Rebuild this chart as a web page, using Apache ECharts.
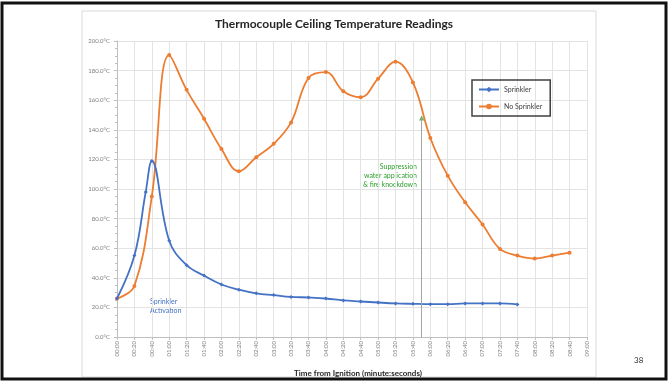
<!DOCTYPE html>
<html>
<head>
<meta charset="utf-8">
<script src="https://cdn.jsdelivr.net/npm/echarts@6/dist/echarts.min.js"></script>
<style>
  html, body { margin: 0; padding: 0; background: #fff; }
  #chart { width: 668px; height: 382px; }
</style>
</head>
<body>
<div id="chart"></div>
<script>
// readings, time in seconds from ignition
var sprinklerTime = [0, 20, 33, 40, 60, 80, 100, 120, 140, 160, 180, 200, 220, 240, 260, 280, 300, 320, 340, 360, 380, 400, 420, 440, 460];
var sprinklerTemp = [26, 55, 98, 119, 65, 48.5, 41.5, 35.5, 32, 29.5, 28.3, 27.1, 26.7, 26, 24.7, 24, 23.3, 22.7, 22.4, 22.2, 22.2, 22.7, 22.7, 22.7, 22];

var noSprinklerTime = [0, 20, 40, 60, 80, 100, 120, 140, 160, 180, 200, 220, 240, 260, 280, 300, 320, 340, 360, 380, 400, 420, 440, 460, 480, 500, 520];
var noSprinklerTemp = [26, 34.5, 95, 190.5, 167, 147.5, 127, 112, 121.5, 130.5, 145, 175, 179, 166, 162, 174.5, 186, 172, 134.5, 109, 91, 76, 59.5, 55, 53, 55, 57];

var suppression = [350, 148];

function pairs(xs, ys) {
    return xs.map(function (x, i) { return [x, ys[i]]; });
}
function mmss(v) {
    var m = Math.floor(v / 60), s = v % 60;
    return (m < 10 ? '0' : '') + m + ':' + (s < 10 ? '0' : '') + s;
}

var myChart = echarts.init(document.getElementById('chart'));
var option = {
    backgroundColor: '#fff',
    animation: false,
    textStyle: { fontFamily: 'Lato' },
    title: {
        text: 'Thermocouple Ceiling Temperature Readings',
        left: 'center',
        top: 13,
        textStyle: { fontSize: 12, fontWeight: 'bold', color: '#262626', fontFamily: 'Lato' }
    },
    legend: {
        orient: 'vertical',
        left: 472,
        top: 80,
        data: ['Sprinkler', 'No Sprinkler'],
        borderColor: '#404040',
        borderWidth: 1.5,
        borderRadius: 0,
        padding: [6, 8, 6, 6],
        itemGap: 10,
        itemWidth: 20,
        itemHeight: 7,
        textStyle: { fontSize: 7, color: '#404040' }
    },
    grid: { left: 117, right: 81, top: 41, bottom: 44 },
    xAxis: {
        type: 'value',
        min: 0,
        max: 540,
        interval: 20,
        name: 'Time from Ignition (minute:seconds)',
        nameLocation: 'middle',
        nameGap: 32,
        nameTextStyle: { fontSize: 8, fontWeight: 'bold', color: '#262626', padding: [0, 0, 0, 12] },
        axisLine: { lineStyle: { color: '#bfbfbf' } },
        axisTick: { length: 3, lineStyle: { color: '#bfbfbf' } },
        axisLabel: { rotate: 90, fontSize: 6, color: '#7f7f7f', margin: 4, formatter: mmss },
        splitLine: { show: true, lineStyle: { color: '#e3e3e3' } }
    },
    yAxis: {
        type: 'value',
        min: 0,
        max: 200,
        interval: 20,
        axisLine: { show: true, lineStyle: { color: '#bfbfbf' } },
        axisTick: { show: true, length: 3, lineStyle: { color: '#bfbfbf' } },
        minorTick: { show: true, splitNumber: 4, length: 2, lineStyle: { color: '#bfbfbf' } },
        axisLabel: { fontSize: 6, color: '#7f7f7f', margin: 7, formatter: function (v) { return v.toFixed(1) + '°C'; } },
        splitLine: { lineStyle: { color: '#e3e3e3' } }
    },
    series: [
        {
            name: 'Sprinkler',
            type: 'line',
            smooth: 0.4,
            data: pairs(sprinklerTime, sprinklerTemp),
            symbol: 'diamond',
            symbolSize: 4,
            showAllSymbol: true,
            lineStyle: { color: '#4472c4', width: 1.8 },
            itemStyle: { color: '#4472c4' },
            z: 3
        },
        {
            name: 'No Sprinkler',
            type: 'line',
            smooth: 0.4,
            data: pairs(noSprinklerTime, noSprinklerTemp),
            symbol: 'circle',
            symbolSize: 4,
            showAllSymbol: true,
            lineStyle: { color: '#ed7d31', width: 1.8 },
            itemStyle: { color: '#ed7d31' },
            z: 2
        },
        {
            name: 'Suppression',
            type: 'scatter',
            data: [suppression],
            symbol: 'triangle',
            symbolSize: 5,
            itemStyle: { color: '#2ea02e' },
            z: 4,
            markLine: {
                silent: true,
                symbol: ['none', 'none'],
                label: { show: false },
                lineStyle: { color: '#a6a6a6', width: 1, type: 'solid' },
                data: [[{ coord: [suppression[0], suppression[1]] }, { coord: [suppression[0], 0] }]]
            }
        }
    ],
    graphic: [
        {
            type: 'rect',
            shape: { x: 82, y: 11, width: 514, height: 366 },
            style: { fill: 'none', stroke: '#d9d9d9', lineWidth: 1 },
            silent: true
        },
        {
            type: 'rect',
            shape: { x: 2, y: 3, width: 664, height: 376 },
            style: { fill: 'none', stroke: '#111', lineWidth: 3 },
            silent: true
        },
        {
            type: 'text',
            left: 150,
            top: 297,
            style: { text: 'Sprinkler\nActivation', fill: '#4472c4', fontSize: 7, lineHeight: 9, fontFamily: 'Lato' }
        },
        {
            type: 'text',
            x: 417,
            y: 162,
            style: {
                text: 'Suppression\nwater application\n& fire knockdown',
                fill: '#2ea02e', fontSize: 7, lineHeight: 9,
                align: 'right', verticalAlign: 'top', fontFamily: 'Lato'
            }
        },
        {
            type: 'text',
            left: 634,
            top: 356,
            style: { text: '38', fill: '#333', fontSize: 8, fontFamily: 'Lato' }
        }
    ]
};
myChart.setOption(option);
window.addEventListener('resize', function () {
    myChart.resize();
});
</script>
</body>
</html>
